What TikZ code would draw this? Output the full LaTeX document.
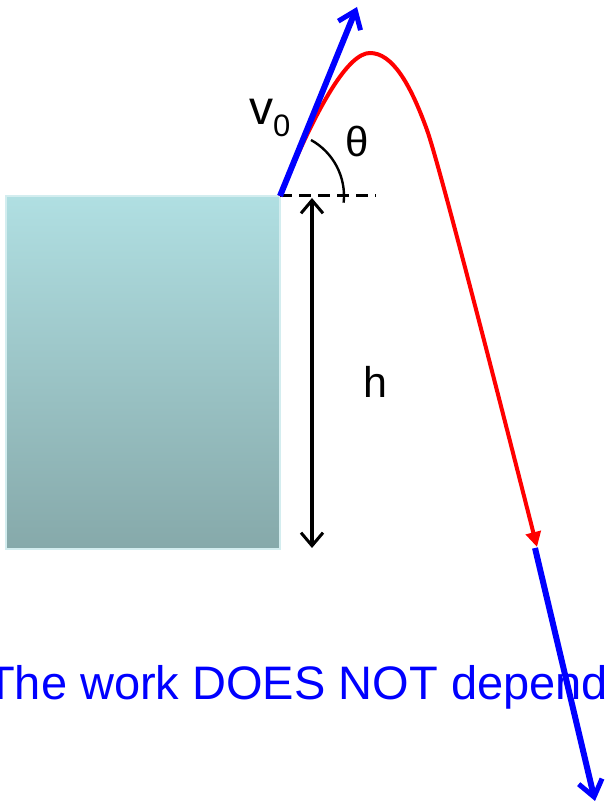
\documentclass[tikz,border=0pt]{standalone}
\usepackage{fontspec}
\setmainfont{Liberation Sans}
\usetikzlibrary{arrows.meta}
\definecolor{blocktop}{HTML}{B0DFE2}
\definecolor{blockbot}{HTML}{86A9AA}
\definecolor{blockedge}{HTML}{D3EDEF}
\definecolor{pureblue}{RGB}{0,0,255}
\tikzset{
  bluevec/.style={draw=pureblue, line width=6pt, -{Straight Barb[length=16pt,width=24pt,line width=5pt]}},
  redpath/.style={draw=red, line width=4pt, -{Triangle[length=15pt,width=15pt]}},
  dimline/.style={draw=black, line width=3.2pt, {Straight Barb[length=13pt,width=22pt,line width=3pt]}-{Straight Barb[length=13pt,width=22pt,line width=3pt]}},
  lbl/.style={inner sep=0pt},
}
\begin{document}
\begin{tikzpicture}[x=1pt,y=1pt]
\useasboundingbox (0,0) rectangle (607,803);
\clip (0,0) rectangle (607,803);
% block
\shade[top color=blocktop, bottom color=blockbot, draw=blockedge, line width=1.5pt] (6,607) rectangle (280,254);
% key points
\coordinate (L) at (280,607);
\coordinate (V) at (357,796);
\coordinate (P) at (370,750);
\coordinate (M) at (427,673);
\coordinate (E) at (537,256);
\coordinate (B1) at (535,255);
\coordinate (B2) at (595,2);
\coordinate (D1) at (376,607);
\coordinate (H1) at (312,605);
\coordinate (H2) at (312,255);
% dashed horizontal
\draw[black, line width=3pt, dash pattern=on 12pt off 7pt] (L) -- (D1);
% angle arc
\draw[black, line width=2.4pt] ([shift={(61:64)}]L) arc[start angle=61, end angle=-6, radius=64];
% trajectory
\draw[redpath] (L) .. controls (319,702) and (349,750) .. (P) .. controls (392,750) and (410,720) .. (M) .. controls (440,637) and (511,358) .. (E);
% initial velocity
\draw[bluevec] (L) -- (V);
% height
\draw[dimline] (H1) -- (H2);
% text
\node[anchor=base west, inner sep=0pt, text=pureblue, font=\fontsize{47}{56}\selectfont] (T) at (-14,103) {The work DOES NOT depend};
% final velocity
\draw[bluevec] (B1) -- (B2);
% labels
\node[lbl, anchor=base west, font=\fontsize{48}{56}\selectfont] (v0) at (249,678) {v\raisebox{-12pt}{\fontsize{31}{36}\selectfont 0}};
\node[lbl, anchor=base, font=\fontsize{42}{50}\selectfont] (th) at (357.5,646) {θ};
\node[lbl, anchor=base, font=\fontsize{43}{50}\selectfont] (h) at (375,405) {h};
\end{tikzpicture}
\end{document}
